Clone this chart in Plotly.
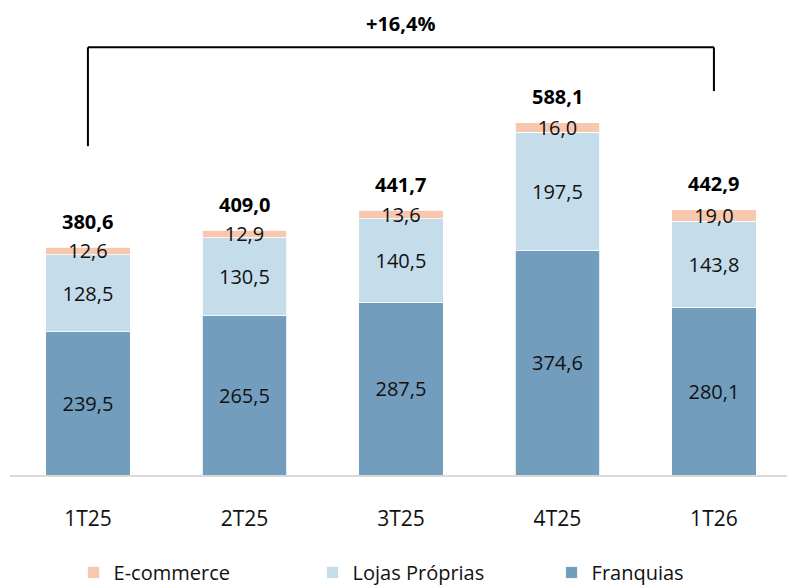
import plotly.graph_objects as go

categories = ["1T25", "2T25", "3T25", "4T25", "1T26"]
franquias = [239.5, 265.5, 287.5, 374.6, 280.1]
lojas = [128.5, 130.5, 140.5, 197.5, 143.8]
ecommerce = [12.6, 12.9, 13.6, 16.0, 19.0]
totals = [380.6, 409.0, 441.7, 588.1, 442.9]
growth_label = "+16,4%"

FONT = "Open Sans"
C_FRAN = "#729DBD"
C_LOJ = "#C5DCEA"
C_ECO = "#F8C8AE"

fig = go.Figure()
common = dict(textposition="inside", insidetextanchor="middle", constraintext="none",
              texttemplate="%{y:.1f}", textfont=dict(family=FONT, size=20, color="#111111"),
              marker_line=dict(width=0.8, color="white"), width=0.54)
fig.add_trace(go.Bar(x=categories, y=franquias, name="Franquias", marker_color=C_FRAN, **common))
fig.add_trace(go.Bar(x=categories, y=lojas, name="Lojas Próprias", marker_color=C_LOJ, **common))
fig.add_trace(go.Bar(x=categories, y=ecommerce, name="E-commerce", marker_color=C_ECO, **common))

for c, t in zip(categories, totals):
    fig.add_annotation(x=c, y=t, text="<b>" + f"{t:.1f}".replace(".", ",") + "</b>",
                       showarrow=False, yanchor="middle", yshift=26,
                       font=dict(family=FONT, size=20, color="#000000"))

# growth bracket
bracket_top = 714
left_bottom = 549
right_bottom = 641
fig.add_shape(type="line", x0=categories[0], x1=categories[0], y0=left_bottom, y1=bracket_top,
              line=dict(color="black", width=2))
fig.add_shape(type="line", x0=categories[0], x1=categories[-1], y0=bracket_top, y1=bracket_top,
              line=dict(color="black", width=2))
fig.add_shape(type="line", x0=categories[-1], x1=categories[-1], y0=right_bottom, y1=bracket_top,
              line=dict(color="black", width=2))
fig.add_annotation(x=2, xref="x", y=bracket_top, text="<b>" + growth_label + "</b>", showarrow=False,
                   yanchor="middle", yshift=24, font=dict(family=FONT, size=20, color="#000000"))

fig.update_layout(
    barmode="stack",
    width=787, height=587,
    margin=dict(l=10, r=0, t=0, b=112),
    paper_bgcolor="white", plot_bgcolor="white",
    separators=",.",
    showlegend=True,
    legend=dict(orientation="h", x=0.549, xanchor="center", xref="container",
                y=0.058, yanchor="top", yref="container",
                traceorder="reversed", font=dict(family=FONT, size=20, color="#111111"),
                itemwidth=30, entrywidth=194),
    xaxis=dict(range=[-0.498, 4.467], showline=True, linecolor="#D9D9D9", linewidth=2,
               ticks="", ticklabelstandoff=24, automargin=False,
               tickfont=dict(family=FONT, size=21, color="#111111"), showgrid=False),
    yaxis=dict(range=[0, 793], visible=False, showgrid=False),
)

fig.write_html("out.html")
